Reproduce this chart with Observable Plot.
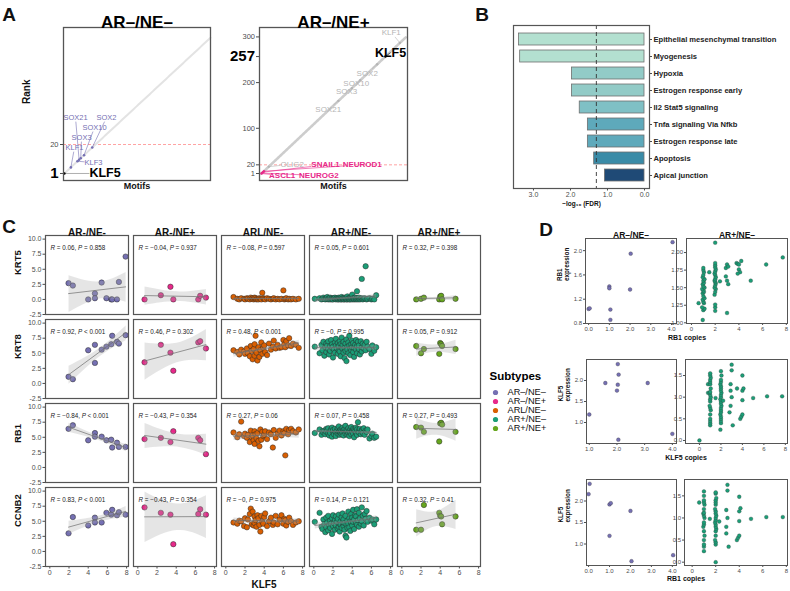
<!DOCTYPE html>
<html><head><meta charset="utf-8">
<script src="https://cdn.jsdelivr.net/npm/d3@7"></script>
<script src="https://cdn.jsdelivr.net/npm/@observablehq/plot@0.6"></script>
<style>
body{margin:0;background:#fff;font-family:"Liberation Sans",Arial,sans-serif;}
#root{position:relative;width:790px;height:591px;overflow:hidden;background:#fff;}
.lbl{position:absolute;white-space:nowrap;color:#111;transform:translate(-50%,-50%);line-height:1;}
</style></head>
<body><div id="root"></div>
<script>
// ---------------- DATA ----------------
// Panel A: motif ranks
const nMotifsNegNeg = 90;
const motifsNegNeg = ["KLF5","KLF1","KLF3","SOX21","SOX3","SOX10","SOX2"];
const rankNegNeg   = [1, 5, 9, 10, 11, 13, 18];
const labelXNegNeg = [16.3, 7.2, 18.8, 7.8, 11.5, 19.4, 26.7];
const labelYNegNeg = [1, 18, 8.2, 37.7, 24.6, 31.2, 37.7];
const groupNegNeg  = ["focus","sox","sox","sox","sox","sox","sox"];

const nMotifsNegPos = 299;
const motifsNegPos = ["KLF1","KLF5","SOX2","SOX10","SOX3","SOX21","OLIG2","SNAIL1","NEUROD1","ASCL1","NEUROG2"];
const rankNegPos   = [287, 257, 240, 205, 188, 160, 16, 4, 6, 1, 2];
const labelXNegPos = [269, 267.6, 219.4, 196.7, 176.7, 138.8, 64.5, 133.3, 209.1, 43.8, 119.5];
const labelYNegPos = [309.6, 265.8, 220.5, 198.6, 181.1, 141.1, 21.4, 20.1, 20.1, -3.4, -3.4];
const groupNegPos  = ["other","focus","other","other","other","other","other","ne","ne","ne","ne"];
const rankCutoff = 20;

// Panel B: hallmark pathways
const pathways = ["Epithelial mesenchymal transition","Myogenesis","Hypoxia","Estrogen response early","Il2 Stat5 signaling","Tnfa signaling Via Nfkb","Estrogen response late","Apoptosis","Apical junction"];
const negLog10FDR = [3.39, 3.36, 1.96, 1.96, 1.75, 1.53, 1.53, 1.36, 1.07];
const fdrThreshold = 0.05;

// Panel C: KLF5 vs genes, rows = [KLF5, KRT5, KRT8, RB1, CCNB2]
const genes = ["KRT5","KRT8","RB1","CCNB2"];
const subtypesC = ["AR-/NE-","AR-/NE+","ARL/NE-","AR+/NE-","AR+/NE+"];
const subtypesLegend = ["AR–/NE–","AR–/NE+","ARL/NE–","AR+/NE–","AR+/NE+"];
const samplesNegNeg = [
 [1.95,2.7,1.1,6.4,3.0],[2.4,2.3,0.7,7.0,5.7],[4.0,0.0,5.5,4.5,4.3],[4.7,1.0,6.4,5.7,5.6],
 [4.7,0.2,3.4,5.1,4.8],[5.4,2.8,5.6,5.1,4.8],[5.9,0.2,6.1,4.5,6.4],[6.4,0.0,6.5,4.6,6.1],
 [6.5,0.0,7.9,3.3,6.9],[7.0,0.0,6.9,4.1,6.0],[7.2,2.9,6.6,3.4,6.5],[7.9,7.1,8.0,3.4,6.1]];
const samplesNegPos = [
 [0.7,0.0,3.5,4.7,7.3],[2.4,0.7,6.4,4.9,6.4],[3.4,2.1,5.1,4.2,6.1],[3.7,0.0,2.1,6.0,1.2],
 [6.3,0.0,6.8,4.9,6.2],[6.5,0.6,7.0,4.5,7.0],[7.1,0.3,5.8,2.2,6.1]];
const samplesARL = [
 [0.8,0.4,5.5,5.8,4.8],[1.2,0.1,5.2,5.0,4.6],[1.4,0.0,4.8,5.5,5.1],[1.6,0.2,5.6,7.6,5.0],
 [1.9,0.1,5.3,5.2,4.2],[2.0,0.0,4.9,5.6,5.5],[2.2,0.2,5.8,4.9,4.0],[2.3,0.1,5.0,5.4,5.3],
 [2.5,0.0,4.5,4.2,6.2],[2.6,0.3,6.2,6.1,7.1],[2.7,0.1,5.4,5.0,4.5],[2.8,0.2,4.0,5.3,6.6],
 [2.9,0.0,5.7,4.5,4.3],[3.0,0.1,6.5,6.0,5.8],[3.0,0.3,4.6,3.9,4.7],[3.1,0.2,7.9,5.5,5.2],
 [3.2,0.0,5.1,4.8,4.1],[3.3,0.1,3.8,5.7,6.0],[3.4,0.0,6.0,4.4,5.5],[3.5,0.2,4.4,3.5,4.4],
 [3.6,0.1,5.5,6.3,3.3],[3.7,0.0,6.8,4.6,5.9],[3.8,1.1,4.9,5.9,4.9],[3.9,0.2,5.9,5.2,4.6],
 [4.0,0.1,6.3,5.4,5.7],[4.1,0.0,5.2,6.0,6.3],[4.3,0.2,4.7,4.7,4.2],[4.5,0.1,6.6,5.8,5.0],
 [4.7,0.0,5.6,5.5,5.6],[4.9,0.1,6.1,3.3,4.4],[5.0,0.2,7.1,6.2,4.8],[5.2,0.0,5.8,4.9,5.9],
 [5.4,0.1,6.4,5.6,4.5],[5.6,0.0,5.9,6.1,5.3],[5.8,0.1,6.0,5.3,6.0],[6.0,1.5,7.2,6.0,4.6],
 [6.1,0.0,6.5,5.7,5.4],[6.2,0.1,6.0,2.0,5.2],[6.3,0.2,7.0,6.4,4.3],[6.5,0.0,6.3,5.5,4.9],
 [6.6,0.1,7.5,6.2,5.6],[6.8,0.0,6.2,6.4,5.0],[7.0,0.1,6.6,6.0,4.4],[7.3,0.0,6.4,5.8,4.8],
 [7.6,0.1,5.9,6.3,5.0]];
const samplesPosNeg = [
 [0.1,0.1,6.1,5.7,4.9],[0.6,0.2,5.0,6.3,6.4],[0.8,0.0,6.4,5.4,4.1],[0.9,0.1,5.5,6.0,3.7],
 [1.0,0.3,6.9,5.8,5.3],[1.1,0.1,4.6,6.1,4.5],[1.2,0.0,6.0,5.5,3.2],[1.3,0.2,6.6,6.4,5.6],
 [1.3,0.1,5.2,5.9,4.0],[1.4,0.4,6.3,6.2,4.8],[1.5,0.0,7.0,5.6,3.5],[1.5,0.1,5.7,6.5,5.9],
 [1.6,0.2,4.8,5.3,4.4],[1.7,0.0,6.2,6.0,5.1],[1.7,0.3,5.4,5.7,3.9],[1.8,0.1,7.2,6.3,4.6],
 [1.9,0.0,5.9,5.1,5.5],[1.9,0.2,6.5,6.6,2.9],[2.0,0.1,4.3,5.9,4.2],[2.0,0.0,6.1,6.2,6.0],
 [2.1,0.2,5.6,5.5,4.7],[2.2,0.1,6.8,6.0,3.6],[2.2,0.3,5.1,6.4,5.2],[2.3,0.0,6.3,5.8,4.3],
 [2.3,0.1,7.4,5.2,5.8],[2.4,0.2,5.8,6.1,4.9],[2.5,0.0,4.9,5.6,3.8],[2.5,0.1,6.7,6.5,5.4],
 [2.6,0.3,5.5,5.9,4.1],[2.6,0.0,6.2,6.8,6.1],[2.7,0.1,7.0,5.4,4.6],[2.7,0.2,5.3,6.0,3.3],
 [2.8,0.0,6.5,6.3,5.0],[2.8,0.1,4.5,5.7,4.4],[2.9,0.4,6.0,6.1,5.7],[2.9,0.0,7.6,5.5,3.9],
 [3.0,0.1,5.7,6.6,4.8],[3.0,0.2,6.4,5.8,6.3],[3.1,0.0,5.1,6.2,4.2],[3.1,0.1,6.9,5.3,5.3],
 [3.2,0.3,5.9,6.0,3.6],[3.2,0.0,4.2,6.4,4.7],[3.3,0.1,6.6,5.6,5.9],[3.3,0.2,5.4,6.9,2.6],
 [3.4,0.0,7.3,5.9,4.5],[3.4,0.1,3.7,6.2,2.3],[3.5,0.5,6.1,5.4,5.1],[3.5,0.0,5.6,6.1,3.9],
 [3.6,0.1,6.8,5.7,6.6],[3.6,0.2,5.0,6.5,4.6],[3.7,0.0,6.3,6.0,5.5],[3.7,0.1,7.9,5.2,4.0],
 [3.8,0.3,5.8,6.3,5.0],[3.8,0.0,4.7,5.8,3.4],[3.9,0.1,6.5,6.7,6.2],[3.9,0.2,5.5,5.5,4.8],
 [4.0,0.8,7.1,6.1,5.6],[4.0,0.0,6.0,5.9,4.3],[4.1,0.1,5.2,6.4,6.9],[4.1,0.2,6.7,5.6,4.9],
 [4.2,0.0,5.9,6.2,5.3],[4.2,0.1,4.4,5.0,3.7],[4.3,0.3,6.4,6.0,6.0],[4.4,0.0,7.2,6.6,4.7],
 [4.4,0.1,5.6,5.7,5.8],[4.5,1.35,6.2,6.3,4.4],[4.5,0.2,5.0,5.4,7.0],[4.6,0.0,6.9,7.5,5.2],
 [4.7,0.1,5.7,6.1,4.1],[4.7,0.3,6.3,5.8,6.4],[4.8,0.0,4.8,6.4,5.5],[4.9,0.1,7.0,5.5,4.6],
 [5.0,3.4,6.0,6.2,7.3],[5.0,0.2,5.3,6.0,5.0],[5.1,0.0,6.6,5.7,5.9],[5.2,0.1,5.8,6.5,4.3],
 [5.3,0.2,6.4,5.4,6.2],[5.4,5.5,5.5,6.1,5.4],[5.5,0.0,6.9,5.9,6.7],[5.6,0.1,6.1,6.3,4.9],
 [5.8,0.2,5.7,4.8,5.6],[6.0,0.0,4.9,5.2,5.1],[6.1,0.1,6.3,5.6,5.3],[6.3,0.0,5.4,4.9,4.5],
 [6.5,0.7,6.0,5.1,5.3]];
const samplesPosPos = [
 [1.5,0.0,6.2,6.7,3.6],[2.0,0.1,5.0,6.6,3.6],[2.3,0.3,5.7,5.9,7.7],[3.9,0.0,4.9,4.3,6.4],
 [4.0,0.5,6.7,7.3,5.9],[4.1,0.6,6.5,7.4,5.8],[4.2,0.0,6.2,7.1,4.5],[5.6,0.1,5.7,5.9,5.8]];
const corrLabels = {
 KRT5:  ["R = 0.06, P = 0.858","R = −0.04, P = 0.937","R = −0.08, P = 0.597","R = 0.05, P = 0.601","R = 0.32, P = 0.398"],
 KRT8:  ["R = 0.92, P < 0.001","R = 0.46, P = 0.302","R = 0.48, P < 0.001","R = −0, P = 0.995","R = 0.05, P = 0.912"],
 RB1:   ["R = −0.84, P < 0.001","R = −0.43, P = 0.354","R = 0.27, P = 0.06","R = 0.07, P = 0.458","R = 0.27, P = 0.493"],
 CCNB2: ["R = 0.83, P < 0.001","R = −0.43, P = 0.354","R = −0, P = 0.975","R = 0.14, P = 0.121","R = 0.32, P = 0.41"]
};

// Panel D: copy number vs expression  [copies, expression]
const dRB1NegNeg = [[0,1.04],[0.05,1.05],[1,1.41],[1,1.38],[1.05,1.03],[1.05,0.86],[2.03,1.95],[2,1.36],[4.05,2.14]];
const dKLF5NegNeg = [[2.03,2.39],[2.06,2.14],[1.58,1.94],[2.03,1.90],[3.11,1.94],[2.0,1.76],[1.0,1.19],[2.05,0.59],[4.0,0.73]];
const dRB1KLF5NegNeg = [[0.05,2.40],[0,2.16],[1.0,1.92],[1.06,1.95],[1.0,1.19],[2.0,1.77],[2.05,0.60],[4.04,0.74]];
const dRB1PosNeg = [[0.6,1.28],[0.95,1.04],[1.0,1.18],[1.1,1.2],[0.9,1.22],[1.05,1.28],[1.0,1.3],[0.95,1.33],[1.1,1.35],[1.0,1.38],[0.95,1.42],[1.05,1.44],[1.0,1.46],[0.9,1.48],[1.1,1.5],[1.0,1.52],[0.95,1.55],[1.05,1.57],[1.0,1.6],[1.1,1.62],[0.95,1.65],[1.0,1.68],[1.05,1.72],[1.0,1.75],[1.0,1.78],[1.5,1.72],[2.0,1.17],[2.0,1.22],[2.0,1.26],[1.95,1.4],[2.0,1.44],[2.05,1.48],[1.95,1.5],[2.0,1.53],[2.05,1.56],[2.0,1.58],[1.95,1.6],[2.0,1.62],[2.05,1.65],[2.0,1.68],[1.95,1.7],[2.0,1.73],[2.05,1.76],[2.0,1.79],[2.0,1.82],[2.0,1.85],[2.0,2.14],[2.4,1.59],[2.9,1.78],[3.0,1.83],[2.9,1.66],[3.0,1.6],[3.1,1.55],[3.0,1.14],[3.1,1.8],[3.8,1.85],[3.9,1.84],[4.0,1.83],[4.2,1.88],[4.0,1.76],[4.1,1.72],[3.9,1.7],[5.0,1.6],[6.3,1.83],[7.7,1.93]];
const dKLF5PosNeg = [[0,0.0],[0.8,1.1],[0.8,1.3],[1.0,0.35],[1.0,0.4],[1.0,0.45],[1.0,0.5],[1.0,0.6],[1.05,0.7],[1.0,0.75],[0.95,0.8],[1.0,0.9],[1.0,0.95],[1.05,1.0],[1.0,1.05],[0.95,1.1],[1.0,1.12],[1.05,1.2],[1.0,1.3],[1.0,1.35],[1.0,1.4],[1.05,1.45],[1.0,1.5],[1.0,1.55],[1.5,0.98],[1.95,0.25],[2.0,0.4],[2.0,0.45],[2.0,0.5],[2.0,0.55],[1.95,0.6],[2.0,0.65],[2.0,0.7],[2.0,0.75],[2.05,0.8],[2.0,0.85],[2.0,0.9],[1.95,0.95],[2.0,1.0],[2.0,1.05],[2.05,1.1],[2.0,1.15],[2.0,1.2],[2.0,1.25],[1.95,1.3],[2.0,1.35],[2.0,1.4],[2.05,1.5],[2.0,1.6],[2.2,0.92],[2.8,0.65],[2.9,0.8],[3.0,1.0],[2.9,1.15],[3.1,0.35],[2.9,1.3],[3.0,1.62],[3.0,1.75],[3.5,1.2],[3.8,0.5],[3.9,0.55],[4.0,0.6],[4.0,0.93],[4.0,1.15],[4.1,1.2],[4.0,1.5],[5.0,0.98],[6.3,1.02],[7.7,1.02]];
const dRB1KLF5PosNeg = [[0.6,1.35],[1.0,0.25],[1.0,0.35],[1.0,0.4],[1.0,0.5],[1.05,0.6],[1.0,0.7],[0.95,0.8],[1.0,0.85],[1.0,0.9],[1.05,1.0],[1.0,1.05],[0.95,1.1],[1.0,1.12],[1.0,1.2],[1.05,1.3],[1.0,1.35],[1.0,1.4],[1.0,1.5],[1.0,1.6],[1.5,0.98],[2.0,0.0],[2.0,0.4],[2.0,0.45],[1.95,0.5],[2.0,0.6],[2.0,0.7],[2.05,0.75],[2.0,0.8],[2.0,0.85],[1.95,0.9],[2.0,0.95],[2.0,1.0],[2.05,1.05],[2.0,1.1],[2.0,1.15],[1.95,1.2],[2.0,1.3],[2.0,1.35],[2.0,1.4],[2.05,1.45],[2.0,1.55],[2.0,1.58],[2.3,0.92],[2.9,0.65],[2.9,0.8],[3.0,1.0],[2.9,1.18],[3.1,0.35],[3.0,1.62],[3.0,1.75],[3.8,0.5],[3.9,0.55],[4.0,0.6],[4.0,0.93],[4.0,1.15],[4.1,1.22],[4.0,1.48],[5.0,0.98],[6.3,1.02],[7.7,1.02]];

// ---------------- STYLE ----------------
const dark2 = ["#7570b3","#e7298a","#d95f02","#1b9e77","#66a61e"];
const barColors = ["#b3e0d0","#b3e0d0","#92cbc7","#92cbc7","#7fc0c5","#5ea9bb","#5ea9bb","#3a8ba7","#1f4a76"];
const FONT = '"Liberation Sans", Arial, sans-serif';
const baseStyle = `background:transparent;overflow:visible;font-family:${FONT};color:#4d4d4d;`;
const root = document.getElementById("root");

function place(svg, left, top) {
  svg.style.position = "absolute";
  svg.style.left = left + "px";
  svg.style.top = top + "px";
  root.appendChild(svg);
  return svg;
}
function label(text, x, y, size, weight = "bold", rotate = 0, extra = "") {
  const d = document.createElement("div");
  d.className = "lbl";
  d.style.left = x + "px"; d.style.top = y + "px";
  d.style.fontSize = size + "px"; d.style.fontWeight = weight;
  if (rotate) d.style.transform = `translate(-50%,-50%) rotate(${rotate}deg)`;
  d.style.cssText += extra;
  d.textContent = text;
  root.appendChild(d);
}
function leader(d, ppuX, ppuY, fs, anchor) {
  const w = d.name.length * fs * 0.3, h = fs * 0.55;
  let cx = d.lx, cy = d.ly;
  if (anchor === "start") cx = d.lx + w / ppuX;
  const vx = (d.rank - cx) * ppuX, vy = (d.rank - cy) * ppuY;
  const t = Math.min(Math.abs(vx) > 1e-9 ? w / Math.abs(vx) : Infinity, Math.abs(vy) > 1e-9 ? h / Math.abs(vy) : Infinity);
  if (t >= 1) return [cx, cy];
  return [cx + (d.rank - cx) * t, cy + (d.rank - cy) * t];
}
function styleTicks(svg, values, size) {
  svg.querySelectorAll("text").forEach(t => {
    if (values.includes(t.textContent)) {
      t.style.fontSize = size + "px"; t.style.fontWeight = "bold"; t.style.fill = "#000";
    }
  });
}

// ---------------- PANEL A ----------------
const motifL = motifsNegNeg.map((name, i) => ({name, rank: rankNegNeg[i], lx: labelXNegNeg[i], ly: labelYNegNeg[i], group: groupNegNeg[i]}));
motifL.forEach(d => { d.end = leader(d, 1.642, 1.525, d.group === "focus" ? 12.5 : 7.5, d.group === "focus" ? "start" : "middle"); });
const ranksL = d3.range(1, nMotifsNegNeg + 1);
const A1 = Plot.plot({
  width: 215, height: 195, marginLeft: 63, marginRight: 5, marginTop: 27, marginBottom: 15,
  style: baseStyle + "font-size:7.5px;",
  x: {domain: [0.5, 90], axis: null},
  y: {domain: [-3.6, 96.7], ticks: [1, rankCutoff], tickSize: 3, tickPadding: 2, label: null},
  marks: [
    Plot.ruleY([rankCutoff], {stroke: "#ff8c8c", strokeDasharray: "3,2", strokeWidth: 0.8}),
    Plot.line(ranksL, {x: d => d, y: d => d, stroke: "#e3e3e3", strokeWidth: 2}),
    Plot.link(motifL, {x1: "rank", y1: "rank", x2: d => d.end[0], y2: d => d.end[1], stroke: d => d.group === "focus" ? "#777" : dark2[0], strokeWidth: 0.6}),
    Plot.dot(motifL, {x: "rank", y: "rank", r: 1.3, fill: d => d.group === "focus" ? "#000" : dark2[0]}),
    Plot.text(motifL.filter(d => d.group !== "focus"), {x: "lx", y: "ly", text: "name", fill: dark2[0], fontSize: 7.5}),
    Plot.text(motifL.filter(d => d.group === "focus"), {x: "lx", y: "ly", text: "name", fill: "#000", fontSize: 12.5, fontWeight: "bold", textAnchor: "start"}),
    Plot.frame({stroke: "#555", strokeWidth: 1.3}),
    Plot.text(["Motifs"], {text: d => d, frameAnchor: "bottom", dy: 8, fontWeight: "bold", fontSize: 9, fill: "#111"}),
    Plot.text(["Rank"], {text: d => d, frameAnchor: "left", dx: -37, rotate: -90, fontWeight: "bold", fontSize: 10, fill: "#111"}),
    Plot.text(["AR–/NE–"], {text: d => d, frameAnchor: "top", dy: -12, fontWeight: "bold", fontSize: 17, fill: "#000"})
  ]
});
styleTicks(A1, ["1"], 15);
place(A1, 0, 0);

const motifR = motifsNegPos.map((name, i) => ({name, rank: rankNegPos[i], lx: labelXNegPos[i], ly: labelYNegPos[i], group: groupNegPos[i]}));
motifR.forEach(d => { d.end = leader(d, 0.484, 0.457, d.group === "focus" ? 12.5 : 8, "middle"); });
const ranksR = d3.range(1, nMotifsNegPos + 1);
const colR = g => g === "focus" ? "#000" : g === "ne" ? dark2[1] : "#b5b5b5";
const A2 = Plot.plot({
  width: 195, height: 195, marginLeft: 44, marginRight: 3, marginTop: 27, marginBottom: 15,
  style: baseStyle + "font-size:7.5px;",
  x: {domain: [-3.1, 302.6], axis: null},
  y: {domain: [-14.3, 320.6], ticks: [1, rankCutoff, 100, 200, 257, 300], tickSize: 3, tickPadding: 1.5, label: null},
  marks: [
    Plot.ruleY([rankCutoff], {stroke: "#ff8c8c", strokeDasharray: "3,2", strokeWidth: 0.8}),
    Plot.line(ranksR, {x: d => d, y: d => d, stroke: "#cdcdcd", strokeWidth: 2.6}),
    Plot.link(motifR, {x1: "rank", y1: "rank", x2: d => d.end[0], y2: d => d.end[1], stroke: d => colR(d.group), strokeWidth: 0.6}),
    Plot.dot(motifR, {x: "rank", y: "rank", r: 1.2, fill: d => colR(d.group)}),
    Plot.text(motifR.filter(d => d.group === "other"), {x: "lx", y: "ly", text: "name", fill: "#b5b5b5", fontSize: 8}),
    Plot.text(motifR.filter(d => d.group === "ne"), {x: "lx", y: "ly", text: "name", fill: dark2[1], fontSize: 8, fontWeight: "bold"}),
    Plot.text(motifR.filter(d => d.group === "focus"), {x: "lx", y: "ly", text: "name", fill: "#000", fontSize: 12.5, fontWeight: "bold"}),
    Plot.frame({stroke: "#555", strokeWidth: 1.3}),
    Plot.text(["Motifs"], {text: d => d, frameAnchor: "bottom", dy: 8, fontWeight: "bold", fontSize: 9, fill: "#111"}),
    Plot.text(["AR–/NE+"], {text: d => d, frameAnchor: "top", dy: -12, fontWeight: "bold", fontSize: 17, fill: "#000"})
  ]
});
styleTicks(A2, ["257"], 15);
place(A2, 215, 0);

// ---------------- PANEL B ----------------
const barsB = pathways.map((p, i) => ({p, v: negLog10FDR[i]}));
const B = Plot.plot({
  width: 300, height: 215, marginLeft: 23, marginRight: 141, marginTop: 25, marginBottom: 27,
  style: baseStyle + "font-size:7px;",
  x: {domain: [3.54, -0.135], ticks: [0, 1, 2, 3], tickSize: 2.5, tickPadding: 1.5, label: null},
  y: {domain: pathways, axis: "right", paddingInner: 0.3, paddingOuter: 0.2, tickSize: 2, tickPadding: 2, label: null},
  color: {domain: pathways, range: barColors},
  marks: [
    Plot.barX(barsB, {x: "v", y: "p", fill: "p", stroke: "#6f6f6f", strokeWidth: 0.8}),
    Plot.ruleX([-Math.log10(fdrThreshold)], {stroke: "#333", strokeDasharray: "4,3", strokeWidth: 0.9}),
    Plot.frame({stroke: "#555", strokeWidth: 1.2}),
    Plot.text(["−log₁₀ (FDR)"], {text: d => d, frameAnchor: "bottom", dy: 17, fontSize: 6.5, fontWeight: "bold", fill: "#111"})
  ]
});
B.querySelectorAll("text").forEach(t => { if (pathways.includes(t.textContent)) { t.style.fontWeight = "bold"; t.style.fontSize = "7.6px"; t.style.fill = "#222"; } });
place(B, 490, 0);

// ---------------- PANEL C ----------------
const groupsC = [samplesNegNeg, samplesNegPos, samplesARL, samplesPosNeg, samplesPosPos];
const cRecords = [];
groupsC.forEach((rows, si) => rows.forEach(r => genes.forEach((g, gi) => cRecords.push({subtype: subtypesC[si], gene: g, x: r[0], y: r[gi + 1]}))));
const cAnnot = [];
genes.forEach(g => subtypesC.forEach((s, si) => cAnnot.push({subtype: s, gene: g, label: corrLabels[g][si]})));
const C = Plot.plot({
  width: 490, height: 379, marginLeft: 44, marginRight: 8, marginTop: 22, marginBottom: 23,
  style: baseStyle + "font-size:7px;",
  fx: {domain: subtypesC, axis: null, paddingInner: 0.056, paddingOuter: 0},
  fy: {domain: genes, axis: null, paddingInner: 0.059, paddingOuter: 0},
  x: {domain: [-0.45, 8.2], ticks: [0, 2, 4, 6, 8], tickSize: 2.5, tickPadding: 1.5, label: null},
  y: {domain: [-2.5, 10.6], ticks: [-2.5, 0, 2.5, 5, 7.5, 10], tickFormat: d => d.toFixed(1), tickSize: 2.5, tickPadding: 1.5, label: null},
  color: {domain: subtypesC, range: dark2},
  marks: [
    Plot.dot(cRecords, {x: "x", y: "y", fx: "subtype", fy: "gene", fill: "subtype", stroke: "#2a2a2a", strokeWidth: 0.5, r: 2.7}),
    Plot.linearRegressionY(cRecords, {x: "x", y: "y", fx: "subtype", fy: "gene", stroke: "#6e6e6e", strokeWidth: 0.7, fill: "#a8a8a8", fillOpacity: 0.3, clip: true}),
    Plot.frame({stroke: "#555", strokeWidth: 1.2}),
    Plot.text(cAnnot, {fx: "subtype", fy: "gene", text: "label", frameAnchor: "top-left", dx: 5, dy: 10, fontSize: 6.3, fill: "#222"}),
    Plot.text(subtypesC, {fx: d => d, fy: () => genes[0], text: d => d, frameAnchor: "top", dy: -7, fontSize: 10, fontWeight: "bold", fill: "#111"}),
    Plot.text(genes, {fx: () => subtypesC[0], fy: d => d, text: d => d, frameAnchor: "left", dx: -27.5, rotate: -90, fontSize: 9.5, fontWeight: "bold", fill: "#111"})
  ]
});
C.querySelectorAll("text").forEach(t => {
  const m = t.textContent.match(/^R = (.*), P (.*)$/);
  if (!m) return;
  t.textContent = "";
  const ns = "http://www.w3.org/2000/svg";
  [["R", true], [" = " + m[1] + ", ", false], ["P", true], [" " + m[2], false]].forEach(([s, it]) => {
    const ts = document.createElementNS(ns, "tspan");
    if (it) ts.setAttribute("font-style", "italic");
    ts.textContent = s; t.appendChild(ts);
  });
});
place(C, 0, 212);
label("KLF5", 264, 585, 10);

// Legend
const Leg = Plot.plot({
  width: 80, height: 82, margin: 0,
  style: baseStyle,
  x: {domain: [0, 1], range: [7, 70], axis: null},
  y: {type: "point", domain: subtypesLegend, range: [27, 73], axis: null},
  color: {domain: subtypesLegend, range: dark2},
  marks: [
    Plot.dot(subtypesLegend, {x: () => 0, y: d => d, fill: d => d, r: 2.6}),
    Plot.text(subtypesLegend, {x: () => 0, y: d => d, text: d => d, dx: 12, textAnchor: "start", fontSize: 9.2, fill: "#111"}),
    Plot.text(["Subtypes"], {text: d => d, frameAnchor: "top-left", dx: 1, dy: 11, fontSize: 11.5, fontWeight: "bold", fill: "#000"})
  ]
});
place(Leg, 488, 360);

// ---------------- PANEL D ----------------
function dPlot(pts, o) {
  const marks = [
    Plot.dot(pts, {x: d => d[0], y: d => d[1], r: 1.9, fill: o.fill, stroke: "#333", strokeWidth: 0.3}),
    Plot.frame({stroke: "#555", strokeWidth: 1})
  ];
  if (o.title) marks.push(Plot.text([o.title], {text: d => d, frameAnchor: "top", dy: -7, fontSize: 8.5, fontWeight: "bold", fill: "#111"}));
  if (o.ylab) marks.push(Plot.text([o.ylab], {text: d => d, frameAnchor: "left", dx: -22, rotate: -90, fontSize: 6.3, fontWeight: "bold", fill: "#111", lineHeight: 1.05}));
  return Plot.plot({
    width: o.w, height: o.h, marginLeft: o.ml, marginRight: o.mr, marginTop: o.mt, marginBottom: o.mb,
    style: baseStyle + "font-size:6px;",
    x: {domain: o.xd, ticks: o.xt, tickSize: 2, tickPadding: 1.5, label: null},
    y: {domain: o.yd, ticks: o.yt, tickFormat: d => d.toFixed(o.yf), tickSize: 2, tickPadding: 1.5, label: null},
    marks
  });
}
const purple = dark2[0], green = dark2[3];
place(dPlot(dRB1NegNeg, {w: 126, h: 118, ml: 31, mr: 4, mt: 14, mb: 19, xd: [-0.15, 4.24], xt: [0,1,2,3,4], yd: [0.8, 2.2], yt: [0.8,1.2,1.6,2.0], yf: 1, fill: purple, title: "AR–/NE–", ylab: "RB1\nexpression"}), 554, 224);
place(dPlot(dRB1PosNeg, {w: 130, h: 118, ml: 26, mr: 3, mt: 14, mb: 19, xd: [-0.42, 8.1], xt: [0,2,4,6,8], yd: [0.99, 2.2], yt: [1,1.25,1.5,1.75,2], yf: 2, fill: green, title: "AR+/NE–"}), 660, 224);
label("RB1 copies", 687, 337, 7);

place(dPlot(dKLF5NegNeg, {w: 126, h: 118, ml: 32, mr: 4, mt: 14, mb: 20, xd: [0.9, 4.15], xt: [1,2,3,4], yd: [0.5, 2.5], yt: [1,1.5,2], yf: 1, fill: purple, ylab: "KLF5\nexpression"}), 554, 345);
place(dPlot(dKLF5PosNeg, {w: 130, h: 118, ml: 25, mr: 3, mt: 14, mb: 20, xd: [-1.3, 8.2], xt: [0,2,4,6,8], yd: [-0.07, 1.87], yt: [0,0.5,1,1.5], yf: 1, fill: green}), 660, 345);
label("KLF5 copies", 686, 457, 7);

place(dPlot(dRB1KLF5NegNeg, {w: 126, h: 118, ml: 32, mr: 4, mt: 14, mb: 18, xd: [-0.1, 4.2], xt: [0,1,2,3,4], yd: [0.5, 2.5], yt: [1,1.5,2], yf: 1, fill: purple, ylab: "KLF5\nexpression"}), 554, 465);
place(dPlot(dRB1KLF5PosNeg, {w: 130, h: 118, ml: 24, mr: 3, mt: 14, mb: 18, xd: [-0.65, 8.1], xt: [0,2,4,6,8], yd: [-0.075, 1.87], yt: [0,0.5,1,1.5], yf: 1, fill: green}), 660, 465);
label("RB1 copies", 686, 578, 7);

// Panel letters
label("A", 9, 14, 19);
label("B", 482, 14, 19);
label("C", 9, 226, 19);
label("D", 546, 229, 19);
</script></body></html>
